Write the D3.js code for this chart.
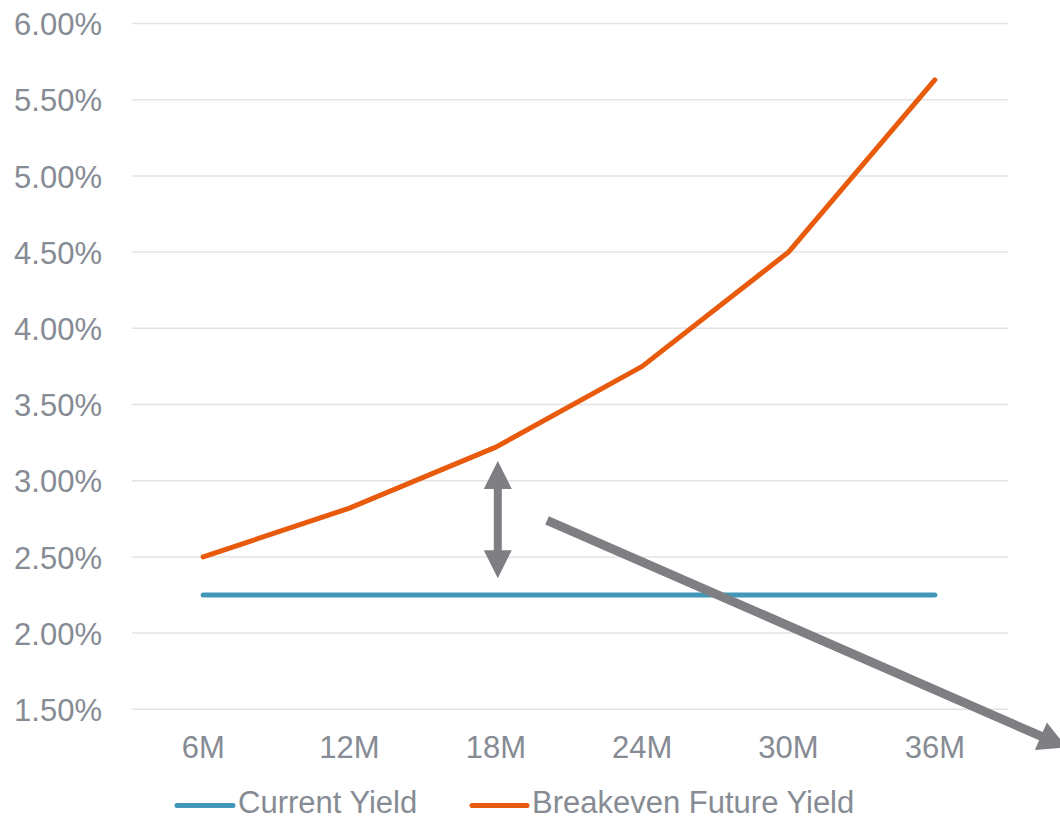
<!DOCTYPE html>
<html>
<head>
<meta charset="utf-8">
<script src="https://cdn.jsdelivr.net/npm/d3@7/dist/d3.min.js"></script>
<style>
  html, body { margin: 0; padding: 0; background: #ffffff; }
  svg { display: block; }
  text { font-family: "Liberation Sans", Arial, sans-serif; fill: #868b94; }
</style>
</head>
<body>
<div id="chart"></div>
<script>
// Tenors along the horizontal axis
const tenors = ["6M", "12M", "18M", "24M", "30M", "36M"];
// Yields, in percent
const currentYield = [2.25, 2.25, 2.25, 2.25, 2.25, 2.25];
const breakevenYield = [2.50, 2.82, 3.22, 3.75, 4.50, 5.63];
// Y axis ticks, in percent
const yTicks = [1.5, 2.0, 2.5, 3.0, 3.5, 4.0, 4.5, 5.0, 5.5, 6.0];

const seriesNames = ["Current Yield", "Breakeven Future Yield"];
const seriesColors = ["#4197b8", "#e85a0c"];

const W = 1060, H = 820;
const svg = d3.select("#chart").append("svg")
  .attr("width", W).attr("height", H);

const x = d3.scaleBand().domain(tenors).range([130, 1008]);
const y = d3.scaleLinear().domain([1.5, 6.0]).range([709.3, 23.5]);
const cx = t => x(t) + x.bandwidth() / 2;

// Horizontal gridlines
svg.append("g").selectAll("line")
  .data(yTicks).join("line")
  .attr("x1", 132).attr("x2", 1008)
  .attr("y1", d => y(d)).attr("y2", d => y(d))
  .attr("stroke", "#e3e3e3").attr("stroke-width", 1.5);

// Y axis labels
const yAxis = d3.axisLeft(y).tickValues(yTicks)
  .tickFormat(d => d.toFixed(2) + "%").tickSize(0).tickPadding(0);
const gy = svg.append("g").attr("transform", "translate(102,0)").call(yAxis);
gy.select(".domain").remove();
gy.selectAll("text")
  .attr("font-size", 31).attr("fill", "#868b94")
  .attr("font-family", "Liberation Sans, Arial, sans-serif")
  .attr("dy", "0.36em");

// X axis labels
const xAxis = d3.axisBottom(x).tickSize(0).tickPadding(0);
const gx = svg.append("g").attr("transform", "translate(0,758)").call(xAxis);
gx.select(".domain").remove();
gx.selectAll("text")
  .attr("font-size", 31).attr("fill", "#868b94")
  .attr("font-family", "Liberation Sans, Arial, sans-serif")
  .attr("dy", 0).attr("y", 0);

// Series lines
const line = d3.line().x((d, i) => cx(tenors[i])).y(d => y(d));
[currentYield, breakevenYield].forEach((vals, k) => {
  svg.append("path")
    .datum(vals)
    .attr("d", line)
    .attr("fill", "none")
    .attr("stroke", seriesColors[k])
    .attr("stroke-width", 5)
    .attr("stroke-linecap", "round")
    .attr("stroke-linejoin", "round");
});

// Block arrow outline from (x0,y0) to (x1,y1); heads at the end, optionally at both ends
function arrowPath(x0, y0, x1, y1, shaft, headLen, headW, both) {
  const dx = x1 - x0, dy = y1 - y0, L = Math.hypot(dx, dy);
  const ux = dx / L, uy = dy / L, nx = -uy, ny = ux;
  const P = (s, n) => [x0 + ux * s + nx * n, y0 + uy * s + ny * n];
  const s0 = both ? headLen : 0, s1 = L - headLen;
  const pts = [];
  if (both) {
    pts.push(P(0, 0), P(s0, headW / 2), P(s0, shaft / 2));
  } else {
    pts.push(P(0, shaft / 2));
  }
  pts.push(P(s1, shaft / 2), P(s1, headW / 2), P(L, 0), P(s1, -headW / 2), P(s1, -shaft / 2));
  if (both) {
    pts.push(P(s0, -shaft / 2), P(s0, -headW / 2));
  } else {
    pts.push(P(0, -shaft / 2));
  }
  return "M" + pts.map(p => p[0].toFixed(1) + "," + p[1].toFixed(1)).join("L") + "Z";
}

const arrowGrey = "#7f7f83";

// Spread between the two curves at 18M
const xMid = cx("18M") + 2;
svg.append("path")
  .attr("d", arrowPath(xMid, y(3.13), xMid, y(2.36), 8, 28, 28, true))
  .attr("fill", arrowGrey);

// Downward trend arrow
const step = x.step();
svg.append("path")
  .attr("d", arrowPath(cx("18M") + 0.35 * step, y(2.74),
                       cx("36M") + 0.9 * step, y(1.25), 9, 28, 30, false))
  .attr("fill", arrowGrey);

// Legend
const legendItems = [
  { x1: 177, x2: 233, tx: 238 },
  { x1: 472, x2: 527, tx: 532 }
];
const lg = svg.append("g");
legendItems.forEach((p, k) => {
  lg.append("line")
    .attr("x1", p.x1).attr("x2", p.x2).attr("y1", 805.5).attr("y2", 805.5)
    .attr("stroke", seriesColors[k]).attr("stroke-width", 5)
    .attr("stroke-linecap", "round");
  lg.append("text")
    .attr("x", p.tx).attr("y", 813)
    .attr("font-size", 31)
    .text(seriesNames[k]);
});
</script>
</body>
</html>
